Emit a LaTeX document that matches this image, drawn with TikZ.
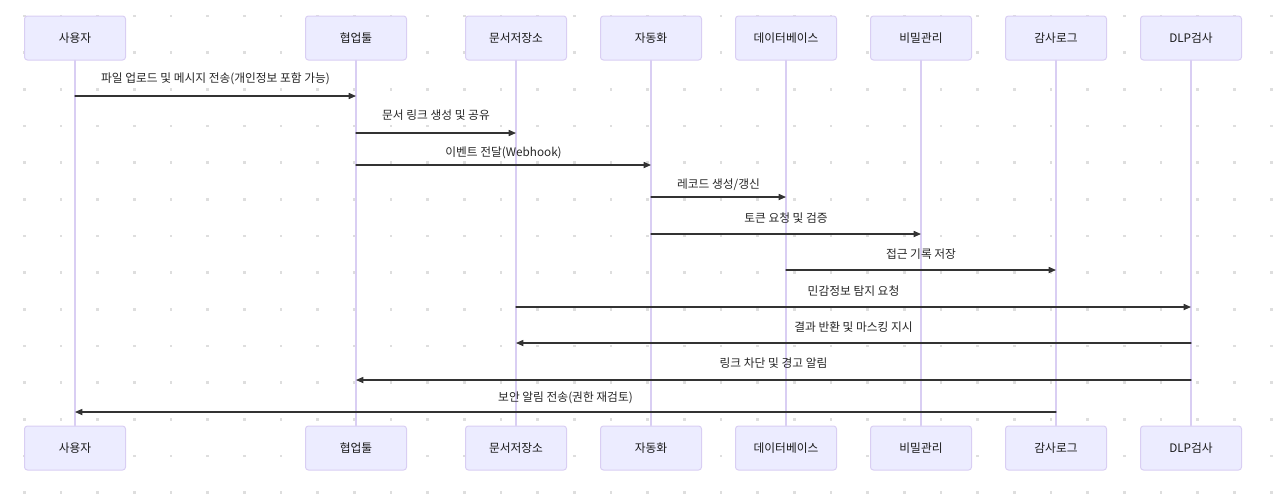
\documentclass[tikz,border=0pt]{standalone}
\usepackage{fontspec}
\setmainfont{Noto Sans CJK KR}
\usepackage{xcolor}
\usepackage{tikz}
\usetikzlibrary{arrows.meta}
\definecolor{actfill}{HTML}{ECECFF}
\definecolor{actline}{HTML}{D9CEF3}
\definecolor{msgline}{HTML}{333333}
\definecolor{griddot}{HTML}{DEDEDE}

\begin{document}
\begin{tikzpicture}[x=0.75pt,y=-0.75pt,line cap=round,
		font=\fontsize{8.8}{10.5}\selectfont,
		actor/.style={draw=actline,fill=actfill,rounded corners=2.2pt,line width=0.75pt,
			minimum width=75.75pt,minimum height=33pt,inner sep=0pt,text=black!90},
		msg/.style={draw=msgline,line width=0.9pt,-{Triangle[length=5.5pt,width=4.6pt]}},
		msglabel/.style={text=black!85,inner sep=0pt}]
	\useasboundingbox (0,0) rectangle (1280,501);
	% dotted background
	\foreach \i in {0,...,34} \foreach \j in {0,...,13}
		\fill[griddot] ({24.3+36.67*\i-1.4},{16+36.67*\j-1.4}) rectangle ++(2.8,2.8);
	% participants and lifelines
	\foreach \n/\x/\t in {user/75/사용자,collab/356/협업툴,docs/516/문서저장소,auto/651/자동화,
		db/786/데이터베이스,vault/921/비밀관리,audit/1056/감사로그,dlp/1191/DLP검사} {
		\node[actor] (\n-top) at (\x,38) {\t};
		\node[actor] (\n-bot) at (\x,448) {\t};
		\draw[actline,line width=0.8pt] (\n-top) -- (\n-bot);
	}
	% messages
	\foreach \a/\b/\y/\l/\t in {
		user/collab/96/79/{파일 업로드 및 메시지 전송(개인정보 포함 가능)},
		collab/docs/133/115/{문서 링크 생성 및 공유},
		collab/auto/165/153/{이벤트 전달(Webhook)},
		auto/db/197/185/{레코드 생성/갱신},
		auto/vault/234/218/{토큰 요청 및 검증},
		db/audit/270/254/{접근 기록 저장},
		docs/dlp/307/291/{민감정보 탐지 요청},
		dlp/docs/343/327/{결과 반환 및 마스킹 지시},
		dlp/collab/380/363/{링크 차단 및 경고 알림},
		audit/user/412/398/{보안 알림 전송(권한 재검토)}} {
		\coordinate (row-\y) at (0,\y);
		\draw[msg] (\a-top |- row-\y) -- (\b-top |- row-\y)
			node[midway,msglabel,yshift={(\y-\l)*0.75pt}] {\t};
	}
\end{tikzpicture}
\end{document}
